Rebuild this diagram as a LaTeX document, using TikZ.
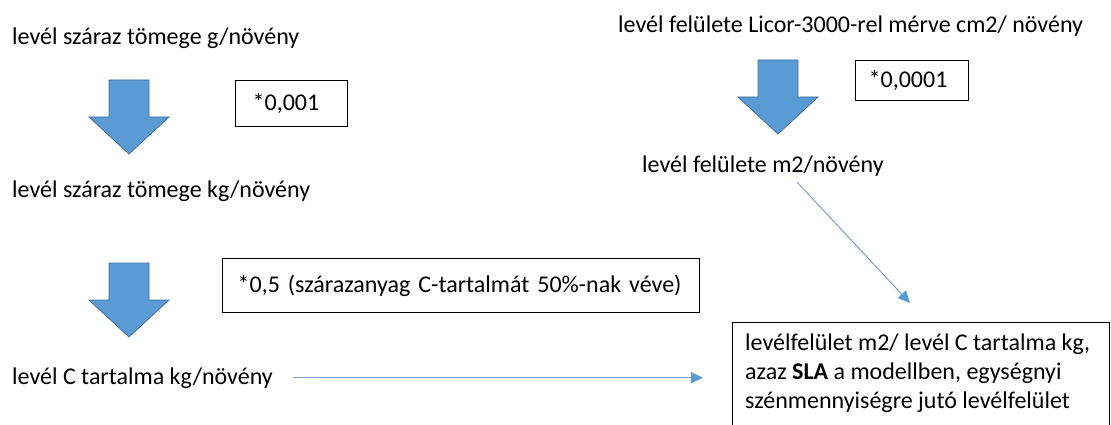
\documentclass[tikz,border=0pt]{standalone}
\usepackage{fontspec}
\setmainfont{Carlito}
\usetikzlibrary{arrows.meta}
\definecolor{arrowfill}{RGB}{91,155,213}
\definecolor{arrowedge}{RGB}{65,113,156}
\definecolor{thinline}{RGB}{125,160,200}
\tikzset{
  lbl/.style={inner sep=0pt, anchor=base west, font=\fontsize{24pt}{28.8pt}\selectfont},
  factorbox/.style={draw=black, line width=1.3pt, anchor=north west, inner ysep=0pt, align=left,
    font=\fontsize{24pt}{28.8pt}\selectfont},
  conn/.style={draw=thinline, line width=1pt,
    -{Triangle[length=12pt,width=11pt,color=arrowfill,fill=arrowfill]}},
  bigdown/.pic={
    \draw[fill=arrowfill, draw=arrowedge, line width=0.8pt]
      (-20,0) -- (20,0) -- (20,37) -- (40,37) -- (0,74) -- (-40,37) -- (-20,37) -- cycle;
  }
}
\begin{document}
\begin{tikzpicture}[x=1pt,y=-1pt]
\useasboundingbox (0,0) rectangle (1111,425);
\clip (0,0) rectangle (1111,425);

% left column
\node[lbl] (t1) at (12,45) {levél száraz tömege g/növény};
\node[lbl] (t2) at (12,197) {levél száraz tömege kg/növény};
\node[lbl] (t3) at (12,384) {levél C tartalma kg/növény};
\pic at (129,80) {bigdown};
\pic at (129,263) {bigdown};
\node[factorbox, minimum width=112pt, minimum height=46pt, inner xsep=17pt, text width=78pt] (f1) at (235,80) {*0,001};
\node[factorbox, minimum width=477pt, minimum height=54pt, inner xsep=15pt, text width=447pt] (f2) at (222,258) {\mbox{*0,5 (szárazanyag C-tartalmát 50\%-nak véve)}};

% right column
\node[lbl] (t4) at (618,33) {levél felülete Licor-3000-rel mérve cm2/ növény};
\node[lbl] (t5) at (642,172) {levél felülete m2/növény};
\pic at (778,60) {bigdown};
\node[factorbox, minimum width=113pt, minimum height=40pt, inner xsep=13pt, text width=87pt] (f3) at (855,60) {*0,0001};

% result box
\node[draw=black, line width=1.3pt, anchor=north west, minimum width=377pt, minimum height=140pt, inner sep=0pt] (b4) at (732,322) {};
\node[inner sep=0pt, anchor=north west, align=left, font=\fontsize{24pt}{28.8pt}\selectfont] (b4t) at (745,334) {levélfelület m2/ levél C tartalma kg,\\ azaz \textbf{SLA} a modellben, egységnyi\\ szénmennyiségre jutó levélfelület};

% connectors
\draw[conn, shorten <=20pt, shorten >=29pt] (t3.east) -- (t3.east -| b4.west);
\coordinate (d1) at ([shift={(155,6)}]t5.south west);
\coordinate (d2) at ([shift={(178,-19)}]b4.north west);
\draw[conn] (d1) -- (d2);
\end{tikzpicture}
\end{document}
